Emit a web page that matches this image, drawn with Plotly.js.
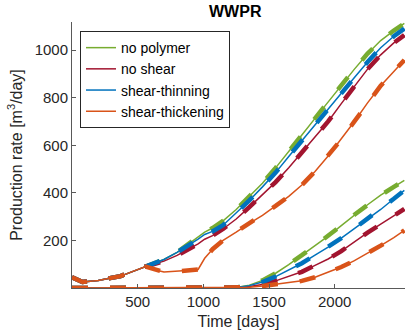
<!DOCTYPE html>
<html>
<head>
<meta charset="utf-8">
<script src="https://cdn.plot.ly/plotly-3.0.1.min.js"></script>
<style>
  html, body { margin: 0; padding: 0; background: #fff; }
  #wwpr { width: 407px; height: 333px; }
</style>
</head>
<body>
<div id="wwpr"></div>
<script>
        // time axis shared by all series
        var days = [0, 80, 200, 370, 560, 620, 700, 800, 900, 960, 1010, 1070, 1150, 1250, 1350,
                    1450, 1550, 1650, 1750, 1850, 1950, 2050, 2150, 2250, 2350, 2450, 2530];

        var names = ['no polymer', 'no shear', 'shear-thinning', 'shear-thickening'];
        var colors = ['#77AC30', '#A2142F', '#0072BD', '#D95319'];

        // producer 1 (upper curves)
        var prod1NoPolymer = [45, 25, 32, 50, 90, 103, 120, 150, 190, 212, 235, 252, 282, 330, 385,
                              440, 505, 572, 643, 713, 783, 853, 920, 985, 1040, 1082, 1112];
        var prod1NoShear = [45, 25, 32, 50, 90, 100, 113, 137, 165, 185, 205, 220, 248, 290, 340,
                            392, 445, 505, 570, 635, 700, 775, 850, 920, 980, 1030, 1063];
        var prod1Thinning = [45, 25, 32, 50, 90, 103, 120, 150, 183, 205, 225, 238, 264, 314, 368,
                             425, 485, 553, 620, 685, 750, 818, 885, 950, 1010, 1058, 1090];
        var prod1Thickening = [45, 25, 32, 50, 90, 78, 67, 70, 75, 78, 125, 163, 200, 235, 272,
                               305, 345, 385, 433, 490, 555, 625, 700, 778, 850, 910, 958];

        // producer 2 (lower curves)
        var prod2NoPolymer = [0, 0, 0, 0, 0, 0, 0, 0, 0, 0, 0, 0, 0, 2, 12,
                              32, 62, 98, 138, 178, 218, 262, 308, 350, 390, 425, 452];
        var prod2NoShear = [0, 0, 0, 0, 0, 0, 0, 0, 0, 0, 0, 0, 0, 1, 6,
                            15, 30, 48, 68, 95, 122, 155, 195, 233, 268, 302, 332];
        var prod2Thinning = [0, 0, 0, 0, 0, 0, 0, 0, 0, 0, 0, 0, 0, 2, 10,
                             25, 48, 75, 104, 138, 172, 210, 250, 290, 330, 375, 410];
        var prod2Thickening = [0, 0, 0, 0, 0, 0, 0, 0, 0, 0, 0, 0, 0, 0, 3,
                               8, 15, 22, 30, 45, 65, 88, 115, 145, 178, 212, 242];

        var xTicks = [500, 1000, 1500, 2000];
        var yTicks = [200, 400, 600, 800, 1000];

        var prod1 = [prod1NoPolymer, prod1NoShear, prod1Thinning, prod1Thickening];
        var prod2 = [prod2NoPolymer, prod2NoShear, prod2Thinning, prod2Thickening];

        var traces = [];
        [prod1, prod2].forEach(function (well, w) {
            well.forEach(function (vals, i) {
                // thin solid line
                traces.push({
                    x: days, y: vals, name: names[i], type: 'scatter', mode: 'lines',
                    showlegend: w === 0, legendgroup: names[i],
                    line: {color: colors[i], width: 1.5}
                });
                // thick dashed line on top
                traces.push({
                    x: days, y: vals, name: names[i], type: 'scatter', mode: 'lines',
                    showlegend: false, legendgroup: names[i],
                    line: {color: colors[i], width: 4.5, dash: '16px,22px'}
                });
            });
        });

        var axisFont = {family: 'Liberation Sans, Arial, sans-serif', size: 15, color: '#262626'};

        var layout = {
            width: 407, height: 333,
            margin: {l: 72, r: 2, t: 22, b: 45},
            paper_bgcolor: '#fff', plot_bgcolor: '#fff',
            font: axisFont,
            title: {
                text: '<b>WWPR</b>', x: 0.578, xanchor: 'center', y: 0.965, yanchor: 'middle',
                font: {family: 'Liberation Sans, Arial, sans-serif', size: 16, color: '#000'}
            },
            xaxis: {
                range: [0, 2535], tickvals: xTicks, ticks: 'inside', ticklen: 4, tickcolor: '#595959',
                showgrid: false, zeroline: false, showline: true, linecolor: '#595959', linewidth: 1,
                mirror: false, tickfont: axisFont,
                title: {text: 'Time [days]', standoff: 6, font: {family: 'Liberation Sans, Arial, sans-serif', size: 16, color: '#262626'}}
            },
            yaxis: {
                range: [0, 1118], tickvals: yTicks, ticks: 'inside', ticklen: 4, tickcolor: '#595959',
                showgrid: false, zeroline: false, showline: true, linecolor: '#595959', linewidth: 1,
                mirror: false, tickfont: axisFont,
                title: {text: 'Production rate [m<sup>3</sup>/day]', standoff: 8, font: {family: 'Liberation Sans, Arial, sans-serif', size: 16, color: '#262626'}}
            },
            legend: {
                x: 0.024, y: 0.966, xanchor: 'left', yanchor: 'top',
                bgcolor: '#fff', bordercolor: '#262626', borderwidth: 1,
                font: {family: 'Liberation Sans, Arial, sans-serif', size: 14, color: '#000'},
                tracegroupgap: 0
            },
            showlegend: true
        };

        Plotly.newPlot('wwpr', traces, layout, {staticPlot: true});
</script>
</body>
</html>
